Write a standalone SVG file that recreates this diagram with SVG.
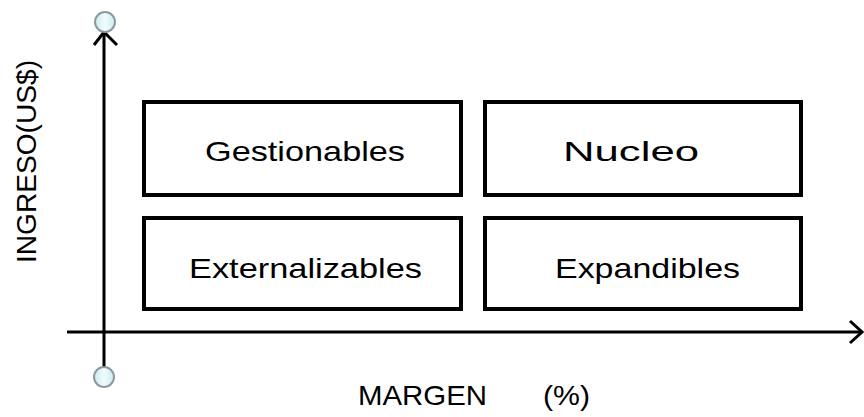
<svg xmlns="http://www.w3.org/2000/svg" width="864" height="417" viewBox="0 0 864 417">
<defs>
<style>
.box{fill:#fff;stroke:#000;stroke-width:4}
.lbl{font-family:"Liberation Sans",Arial,sans-serif;font-size:28px;fill:#000}
.axis{stroke:#000;stroke-width:3;fill:none}
.knob{stroke:#8c9aa0;stroke-width:2;fill:url(#glass)}
</style>
<linearGradient id="glass" x1="0" y1="0" x2="1" y2="0">
<stop offset="0" stop-color="#c9ecf1"/>
<stop offset="0.5" stop-color="#f2fcfd"/>
<stop offset="1" stop-color="#c9ecf1"/>
</linearGradient>
</defs>
<rect width="864" height="417" fill="#fff"/>
<g id="connectors">
<line class="axis" x1="104" y1="33" x2="104" y2="368"/>
<polyline class="axis" points="94,45 104,32 117,45"/>
<line class="axis" x1="67" y1="332" x2="861" y2="332"/>
<polyline class="axis" points="850,321 862,332 850,343"/>
<circle class="knob" cx="105" cy="22" r="10"/>
<circle class="knob" cx="104" cy="377" r="10"/>
</g>
<g id="gestionables">
<rect class="box" x="144" y="102" width="317" height="93"/>
<text class="lbl" x="205" y="161" textLength="200" lengthAdjust="spacingAndGlyphs">Gestionables</text>
</g>
<g id="nucleo">
<rect class="box" x="485" y="102" width="316" height="93"/>
<text class="lbl" x="563" y="161" textLength="136" lengthAdjust="spacingAndGlyphs">Nucleo</text>
</g>
<g id="externalizables">
<rect class="box" x="144" y="218" width="317" height="91"/>
<text class="lbl" x="189" y="278" textLength="233" lengthAdjust="spacingAndGlyphs">Externalizables</text>
</g>
<g id="expandibles">
<rect class="box" x="485" y="218" width="316" height="91"/>
<text class="lbl" x="555" y="278" textLength="185" lengthAdjust="spacingAndGlyphs">Expandibles</text>
</g>
<g id="axis-labels">
<text class="lbl" x="358" y="405" textLength="129" lengthAdjust="spacingAndGlyphs">MARGEN</text>
<text class="lbl" x="543" y="405" textLength="47" lengthAdjust="spacingAndGlyphs">(%)</text>
<text class="lbl" transform="translate(36,263) rotate(-90)" textLength="203" lengthAdjust="spacingAndGlyphs">INGRESO(US$)</text>
</g>
</svg>
